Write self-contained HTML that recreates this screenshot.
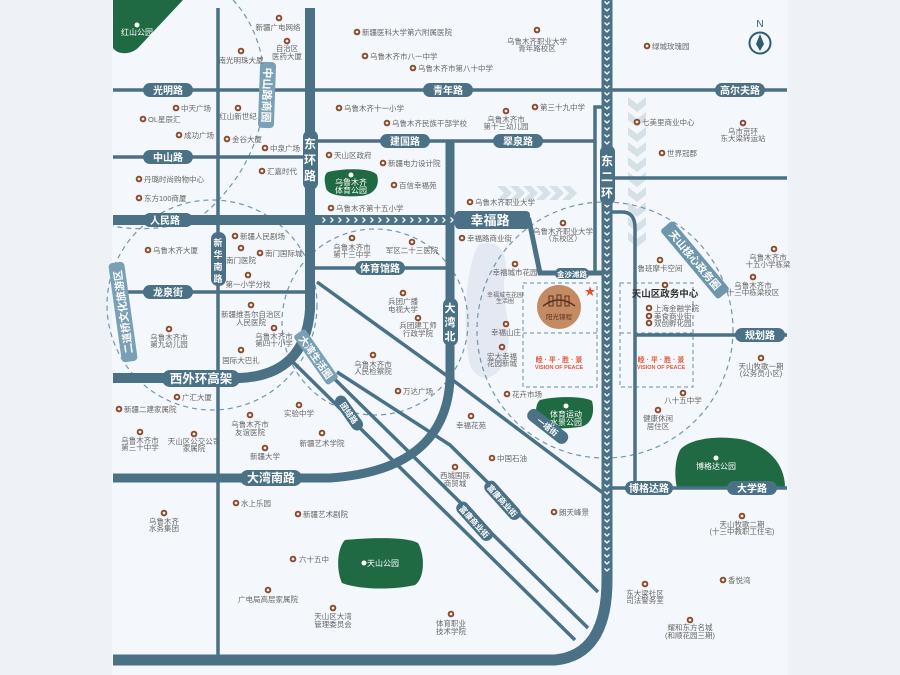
<!DOCTYPE html>
<html><head><meta charset="utf-8"><style>
html,body{margin:0;padding:0;background:#eef2f6;}
svg{display:block;font-family:"Liberation Sans","Noto Sans CJK SC",sans-serif;}
.p text{font-size:7.5px;fill:#666;}
.r{fill:none;stroke:#4a7185;}
.pl rect{fill:#4a7185;}
.pl text{fill:#fff;font-size:10px;font-weight:bold;text-anchor:middle;}
.c{text-anchor:middle;}
</style></head><body>
<svg width="900" height="675" viewBox="0 0 900 675">
<defs>
<pattern id="vch" x="602" y="0" width="10" height="7" patternUnits="userSpaceOnUse"><rect width="10" height="7" fill="#4a7185"/><path d="M2.5,1.5 L5,4 L7.5,1.5" stroke="#fff" stroke-width="1.3" fill="none"/></pattern>
<pattern id="hch" x="0" y="215" width="8" height="10" patternUnits="userSpaceOnUse"><rect width="8" height="10" fill="#4a7185"/><path d="M2.5,2.5 L5,5 L2.5,7.5" stroke="#fff" stroke-width="1.3" fill="none"/></pattern>
<g id="ic"><circle r="3.3" fill="#8b4a2b"/><circle r="1.4" fill="#f5f0ea"/></g>
</defs>
<rect x="0" y="0" width="900" height="675" fill="#eef2f6"/>
<rect x="112" y="0" width="676" height="675" fill="#f4f7fb"/>

<!-- light chevron bands -->
<g fill="#d6e0e8">
<path d="M628,97 L637,104 L646,97 L646,105 L637,112 L628,105Z"/>
<path d="M628,112 L637,119 L646,112 L646,120 L637,127 L628,120Z"/>
<path d="M628,127 L637,134 L646,127 L646,135 L637,142 L628,135Z"/>
<path d="M628,142 L637,149 L646,142 L646,150 L637,157 L628,150Z"/>
<path d="M628,157 L637,164 L646,157 L646,165 L637,172 L628,165Z"/>
<path d="M628,172 L637,179 L646,172 L646,180 L637,187 L628,180Z"/>
<path d="M628,187 L637,194 L646,187 L646,195 L637,202 L628,195Z"/>
<path d="M628,202 L637,209 L646,202 L646,210 L637,217 L628,210Z"/>
<path d="M628,217 L637,224 L646,217 L646,225 L637,232 L628,225Z"/>
<path d="M628,232 L637,239 L646,232 L646,240 L637,247 L628,240Z"/>
<path d="M497,186 L505,186 L512,193 L505,200 L497,200 L504,193Z"/>
<path d="M510,186 L518,186 L525,193 L518,200 L510,200 L517,193Z"/>
<path d="M523,186 L531,186 L538,193 L531,200 L523,200 L530,193Z"/>
<path d="M536,186 L544,186 L551,193 L544,200 L536,200 L543,193Z"/>
<path d="M549,186 L557,186 L564,193 L557,200 L549,200 L556,193Z"/>
<path d="M562,186 L570,186 L577,193 L570,200 L562,200 L569,193Z"/>
</g>
<!-- lavender area -->
<path d="M478,245 C495,238 510,250 505,275 C500,300 515,330 505,360 C498,380 478,385 470,365 C462,330 465,270 478,245Z" fill="#e3e8f3"/>

<!-- dashed circles -->
<g fill="none" stroke="#6e97b0" stroke-width="1.2" stroke-dasharray="5 4">
<path d="M233,0 C280,50 278,150 205,213 C185,228 140,232 113,226"/>
<circle cx="212" cy="305" r="105"/>
<circle cx="375" cy="322" r="93"/>
<circle cx="605" cy="330" r="128"/>
</g>

<!-- greens -->
<path d="M113,0 L183,0 L138,48 C130,55 118,55 113,48Z" fill="#1f6a42"/>
<path d="M328,172 C345,168 372,168 377,175 C380,185 375,195 360,196 C345,197 328,196 326,188 C324,180 324,174 328,172Z" fill="#1f6a42"/>
<path d="M540,400 C555,396 585,396 592,401 C595,412 592,425 580,427 C565,429 545,429 538,425 C535,415 535,404 540,400Z" fill="#1f6a42"/>
<path d="M345,540 C365,538 405,536 418,543 C425,555 425,578 415,585 C395,590 360,590 342,583 C336,570 337,548 345,540Z" fill="#1f6a42"/>
<path d="M680,450 C690,438 720,435 745,440 C770,448 785,465 785,488 L677,488 C674,475 675,460 680,450Z" fill="#1f6a42"/>

<!-- dashed rects -->
<g fill="none" stroke="#7ea2b8" stroke-width="1.2" stroke-dasharray="4 3">
<rect x="523" y="283" width="74" height="104"/><line x1="523" y1="333" x2="597" y2="333"/>
<rect x="620" y="283" width="73" height="104"/><line x1="620" y1="333" x2="693" y2="333"/>
</g>

<!-- thin roads -->
<g class="r" stroke-width="3.5">
<line x1="113" y1="90" x2="787" y2="90"/>
<line x1="113" y1="157" x2="310" y2="157"/>
<line x1="113" y1="292" x2="310" y2="292"/>
<line x1="218" y1="8" x2="218" y2="660"/>
<line x1="310" y1="141" x2="595" y2="141"/>
<polyline points="595,274 595,107 607,107"/>
<line x1="310" y1="268" x2="450" y2="268"/>
<line x1="607" y1="178" x2="787" y2="178"/>
<path d="M607,212 L622,212 Q635,212 635,228 L635,488"/>
<line x1="635" y1="335" x2="787" y2="335"/>
<line x1="607" y1="488" x2="787" y2="488"/>
<polyline points="317,282 450,378 603,493"/>
<polyline points="337,372 450,445 598,592"/>
<line x1="300" y1="345" x2="588" y2="628"/>
<line x1="293" y1="362" x2="575" y2="640"/>
</g>
<!-- thick roads -->
<g class="r">
<path d="M455,220 L529,220 L540,273 L607,273" stroke-width="5"/>
<line x1="113" y1="220" x2="460" y2="220" stroke-width="10"/>
<path d="M310,8 L310,310 Q305,375 240,378 L113,378" stroke-width="10"/>
<path d="M113,478 L330,478 Q445,470 450,380 L450,140" stroke-width="9"/>
<path d="M113,660 L555,660 Q607,655 607,580 L607,0" stroke-width="11"/>
</g>
<rect x="318" y="215" width="137" height="10" fill="url(#hch)"/>
<rect x="602" y="0" width="10" height="575" fill="url(#vch)"/>

<!-- pills -->
<g class="pl">
<rect x="143" y="83" width="50" height="14" rx="7"/><text x="168" y="94">光明路</text>
<rect x="423" y="83" width="50" height="14" rx="7"/><text x="448" y="94">青年路</text>
<rect x="715" y="83" width="50" height="14" rx="7"/><text x="740" y="94">高尔夫路</text>
<rect x="143" y="150" width="50" height="14" rx="7"/><text x="168" y="161">中山路</text>
<rect x="143" y="213" width="50" height="14" rx="7"/><text x="165" y="224">人民路</text>
<rect x="143" y="285" width="50" height="14" rx="7"/><text x="168" y="296">龙泉街</text>
<rect x="380" y="134" width="50" height="14" rx="7"/><text x="405" y="145">建国路</text>
<rect x="493" y="134" width="50" height="14" rx="7"/><text x="518" y="145">翠泉路</text>
<rect x="355" y="261" width="50" height="14" rx="7"/><text x="380" y="272">体育馆路</text>
<rect x="455" y="211" width="75" height="18" rx="4"/><text x="490" y="225" style="font-size:13px">幸福路</text>
<rect x="555" y="268" width="34" height="11" rx="5"/><text x="572" y="277" style="font-size:7.5px">金沙滩路</text>
<rect x="162" y="370" width="78" height="17" rx="8"/><text x="201" y="383" style="font-size:12.5px">西外环高架</text>
<rect x="240" y="470" width="62" height="16" rx="8"/><text x="271" y="482" style="font-size:12px">大湾南路</text>
<rect x="625" y="481" width="48" height="14" rx="7"/><text x="649" y="492">博格达路</text>
<rect x="727" y="481" width="50" height="14" rx="7"/><text x="752" y="492">大学路</text>
<rect x="735" y="328" width="50" height="14" rx="7"/><text x="760" y="339">规划路</text>
<rect x="303" y="130" width="15" height="60" rx="7"/>
<rect x="211" y="232" width="15" height="54" rx="7"/>
<rect x="443" y="298" width="15" height="48" rx="7"/>
<rect x="600" y="145" width="15" height="60" rx="7"/>
</g>
<g fill="#fff" font-weight="bold" text-anchor="middle">
<text x="310" y="148" font-size="12">东</text><text x="310" y="164" font-size="12">环</text><text x="310" y="180" font-size="12">路</text>
<text x="218" y="246" font-size="9">新</text><text x="218" y="258" font-size="9">华</text><text x="218" y="270" font-size="9">南</text><text x="218" y="282" font-size="9">路</text>
<text x="450" y="312" font-size="11">大</text><text x="450" y="326" font-size="11">湾</text><text x="450" y="340" font-size="11">北</text>
<text x="607" y="165" font-size="12">东</text><text x="607" y="181" font-size="12">二</text><text x="607" y="197" font-size="12">环</text>
</g>
<!-- rotated pills -->
<g transform="translate(267,95) rotate(92)"><rect x="-33" y="-8" width="66" height="16" rx="4" fill="#7aa0b6"/><text x="0" y="4" fill="#fff" font-size="11" font-weight="bold" text-anchor="middle">中山路商圈</text></g>
<g transform="translate(123,312) rotate(-98)"><rect x="-50" y="-8" width="100" height="16" rx="4" fill="#7aa0b6"/><text x="0" y="4" fill="#fff" font-size="10.5" font-weight="bold" text-anchor="middle">二道桥文化旅游区</text></g>
<g transform="translate(316,357) rotate(55)"><rect x="-30" y="-7" width="60" height="14" rx="3" fill="#7aa0b6"/><text x="0" y="4" fill="#fff" font-size="10" font-weight="bold" text-anchor="middle">大湾生活圈</text></g>
<g transform="translate(695,260) rotate(50)"><rect x="-45" y="-8" width="90" height="16" rx="3" fill="#6e96ad"/><text x="0" y="4" fill="#fff" font-size="10.5" font-weight="bold" text-anchor="middle">天山核心政务圈</text></g>
<g class="pl" transform="translate(349,413) rotate(55)"><rect x="-20" y="-6" width="40" height="12" rx="6"/><text x="0" y="3" style="font-size:8px">团结路</text></g>
<g class="pl" transform="translate(548,426) rotate(38)"><rect x="-24" y="-6" width="48" height="13" rx="6"/><text x="0" y="4" style="font-size:8px">一塔街</text></g>
<g class="pl" transform="translate(503,500) rotate(48)"><rect x="-24" y="-6" width="48" height="13" rx="6"/><text x="0" y="4" style="font-size:8px">富康商业街</text></g>
<g class="pl" transform="translate(475,521) rotate(48)"><rect x="-24" y="-6" width="48" height="13" rx="6"/><text x="0" y="4" style="font-size:8px">富康商业街</text></g>

<!-- project -->
<circle cx="559" cy="307" r="22" fill="#c48a62"/>
<path d="M543,306 Q559,294 575,306" stroke="#5a3020" stroke-width="1.5" fill="none"/>
<g stroke="#5a3020" stroke-width="1" fill="none"><rect x="549" y="296" width="4" height="10"/><rect x="557" y="295" width="4" height="11"/><rect x="565" y="296" width="4" height="10"/></g>
<text x="559" y="319" font-size="6.5" fill="#5a3020" text-anchor="middle">阳光锦程</text>
<text x="590" y="295" font-size="11" fill="#e8502a" text-anchor="middle">★</text>
<text x="559" y="362" font-size="7" fill="#e2583a" text-anchor="middle" font-weight="bold">睦 · 平 · 胜 · 景</text>
<text x="559" y="369" font-size="5.5" fill="#e2583a" text-anchor="middle" font-weight="bold">VISION OF PEACE</text>
<text x="661" y="362" font-size="7" fill="#e2583a" text-anchor="middle" font-weight="bold">睦 · 平 · 胜 · 景</text>
<text x="661" y="369" font-size="5.5" fill="#e2583a" text-anchor="middle" font-weight="bold">VISION OF PEACE</text>

<!-- compass -->
<text x="760" y="27" font-size="10" fill="#2e5e72" text-anchor="middle">N</text>
<circle cx="760" cy="43" r="10.5" fill="none" stroke="#2e5e72" stroke-width="2"/>
<path d="M760,34 L764,44 L760,51 L756,44Z" fill="#2e5e72"/>

<!-- park labels -->
<g fill="#fff" font-size="8" text-anchor="middle">
<circle cx="137" cy="25" r="2.5" fill="#fff"/><text x="137" y="35">红山公园</text>
<circle cx="351" cy="175" r="2.5"/><text x="351" y="185">乌鲁木齐</text><text x="351" y="193">体育公园</text>
<circle cx="566" cy="406" r="2.5"/><text x="566" y="417">体育运动</text><text x="566" y="425">水景公园</text>
<circle cx="364" cy="563" r="2.5"/><text x="383" y="566">天山公园</text>
<circle cx="716" cy="458" r="2.5"/><text x="716" y="469">博格达公园</text>
</g>

<!-- POIs -->
<g class="p">
<use href="#ic" x="279" y="18"/><text x="278" y="30" class="c">新疆广电网络</text>
<use href="#ic" x="287" y="41"/><text x="287" y="51" class="c">自治区</text><text x="287" y="59" class="c">医药大厦</text>
<use href="#ic" x="241" y="51"/><text x="241" y="63" class="c">南光明珠大厦</text>
<use href="#ic" x="357" y="32"/><text x="362" y="35">新疆医科大学第六附属医院</text>
<use href="#ic" x="365" y="56"/><text x="370" y="59">乌鲁木齐市八一中学</text>
<use href="#ic" x="413" y="68"/><text x="418" y="71">乌鲁木齐市第八十中学</text>
<use href="#ic" x="176" y="108"/><text x="181" y="111">中天广场</text>
<use href="#ic" x="143" y="119"/><text x="148" y="122">OL星辰汇</text>
<use href="#ic" x="179" y="135"/><text x="184" y="138">成功广场</text>
<use href="#ic" x="238" y="108"/><text x="238" y="119" class="c">红山新世纪</text>
<use href="#ic" x="227" y="139"/><text x="232" y="142">金谷大厦</text>
<use href="#ic" x="265" y="148"/><text x="270" y="151">中泉广场</text>
<use href="#ic" x="262" y="171"/><text x="267" y="174">汇嘉时代</text>
<use href="#ic" x="139" y="179"/><text x="144" y="182">丹璐时尚购物中心</text>
<use href="#ic" x="139" y="198"/><text x="144" y="201">东方100商厦</text>
<use href="#ic" x="339" y="108"/><text x="344" y="111">乌鲁木齐十一小学</text>
<use href="#ic" x="387" y="123"/><text x="392" y="126">乌鲁木齐民族干部学校</text>
<use href="#ic" x="329" y="155"/><text x="334" y="158">天山区政府</text>
<use href="#ic" x="383" y="163"/><text x="388" y="166">新疆电力设计院</text>
<use href="#ic" x="394" y="185"/><text x="399" y="188">百信幸福苑</text>
<use href="#ic" x="331" y="208"/><text x="336" y="211">乌鲁木齐第十五小学</text>
<use href="#ic" x="235" y="236"/><text x="240" y="239">新疆人民剧场</text>
<use href="#ic" x="148" y="250"/><text x="153" y="253">乌鲁木齐大厦</text>
<use href="#ic" x="241" y="248"/><text x="241" y="263" class="c">南门医院</text>
<use href="#ic" x="260" y="253"/><text x="265" y="256">南门国际城</text>
<use href="#ic" x="248" y="275"/><text x="248" y="287" class="c">第一小学分校</text>
<use href="#ic" x="352" y="238"/><text x="352" y="250" class="c">乌鲁木齐市</text><text x="352" y="257" class="c">第十三中学</text>
<use href="#ic" x="412" y="242"/><text x="412" y="253" class="c">军区二十三医院</text>
<use href="#ic" x="403" y="293"/><text x="403" y="304" class="c">兵团广播</text><text x="403" y="312" class="c">电视大学</text>
<use href="#ic" x="418" y="318"/><text x="418" y="328" class="c">兵团建工师</text><text x="418" y="336" class="c">行政学院</text>
<use href="#ic" x="251" y="305"/><text x="251" y="317" class="c">新疆维吾尔自治区</text><text x="251" y="325" class="c">人民医院</text>
<use href="#ic" x="274" y="328"/><text x="274" y="339" class="c">乌鲁木齐市</text><text x="274" y="346" class="c">第四十小学</text>
<use href="#ic" x="169" y="329"/><text x="169" y="340" class="c">乌鲁木齐市</text><text x="169" y="347" class="c">第九幼儿园</text>
<use href="#ic" x="241" y="350"/><text x="241" y="363" class="c">国际大巴扎</text>
<use href="#ic" x="373" y="355"/><text x="373" y="367" class="c">乌鲁木齐市</text><text x="373" y="374" class="c">人民检察院</text>
<use href="#ic" x="398" y="391"/><text x="403" y="394">万达广场</text>
<use href="#ic" x="177" y="397"/><text x="182" y="400">广汇大厦</text>
<use href="#ic" x="119" y="409"/><text x="124" y="412">新疆二建家属院</text>
<use href="#ic" x="299" y="405"/><text x="299" y="416" class="c">实验中学</text>
<use href="#ic" x="250" y="415"/><text x="250" y="427" class="c">乌鲁木齐市</text><text x="250" y="435" class="c">友谊医院</text>
<use href="#ic" x="140" y="432"/><text x="140" y="443" class="c">乌鲁木齐市</text><text x="140" y="450" class="c">第三十中学</text>
<use href="#ic" x="194" y="434"/><text x="194" y="444" class="c">天山区公交公司</text><text x="194" y="451" class="c">家属院</text>
<use href="#ic" x="322" y="433"/><text x="322" y="446" class="c">新疆艺术学院</text>
<use href="#ic" x="265" y="448"/><text x="265" y="459" class="c">新疆大学</text>
<use href="#ic" x="236" y="503"/><text x="241" y="506">水上乐园</text>
<use href="#ic" x="298" y="514"/><text x="303" y="517">新疆艺术剧院</text>
<use href="#ic" x="164" y="513"/><text x="164" y="524" class="c">乌鲁木齐</text><text x="164" y="531" class="c">水务集团</text>
<use href="#ic" x="293" y="559"/><text x="299" y="562">六十五中</text>
<use href="#ic" x="268" y="590"/><text x="268" y="602" class="c">广电局高层家属院</text>
<use href="#ic" x="333" y="608"/><text x="333" y="619" class="c">天山区大湾</text><text x="333" y="627" class="c">管理委员会</text>
<use href="#ic" x="451" y="614"/><text x="451" y="626" class="c">体育职业</text><text x="451" y="634" class="c">技术学院</text>
<use href="#ic" x="537" y="30"/><text x="537" y="44" class="c">乌鲁木齐职业大学</text><text x="537" y="51" class="c">青年路校区</text>
<use href="#ic" x="647" y="46"/><text x="652" y="49">绿城玫瑰园</text>
<use href="#ic" x="535" y="107"/><text x="540" y="110">第三十九中学</text>
<use href="#ic" x="506" y="111"/><text x="506" y="122" class="c">乌鲁木齐市</text><text x="506" y="129" class="c">第十三幼儿园</text>
<use href="#ic" x="637" y="122"/><text x="642" y="125">七美里商业中心</text>
<use href="#ic" x="743" y="123"/><text x="743" y="134" class="c">乌市京环</text><text x="743" y="141" class="c">东大梁转运站</text>
<use href="#ic" x="662" y="153"/><text x="667" y="156">世界冠郡</text>
<use href="#ic" x="470" y="202"/><text x="475" y="205">乌鲁木齐职业大学</text>
<use href="#ic" x="563" y="223"/><text x="563" y="234" class="c">乌鲁木齐职业大学</text><text x="563" y="241" class="c">（东校区）</text>
<use href="#ic" x="462" y="238"/><text x="467" y="241">幸福路商业街</text>
<use href="#ic" x="515" y="264"/><text x="515" y="275" class="c">幸福城市花园</text>
<text x="505" y="297" class="c" style="font-size:6px">幸福城市花园</text><text x="505" y="303" class="c" style="font-size:6px">生活圈</text>
<use href="#ic" x="506" y="324"/><text x="506" y="335" class="c">幸福山庄</text>
<use href="#ic" x="660" y="260"/><text x="660" y="271" class="c">鲁班摩卡空间</text>
<use href="#ic" x="665" y="285"/><text x="665" y="297" class="c" style="font-size:9.5px;fill:#333;font-weight:bold">天山区政务中心</text>
<use href="#ic" x="649" y="308"/><text x="654" y="311">上海金融学院</text>
<use href="#ic" x="649" y="316"/><text x="654" y="319">美食商业街</text>
<use href="#ic" x="649" y="323"/><text x="654" y="326">双创孵化园</text>
<use href="#ic" x="774" y="249"/><text x="768" y="260" class="c">乌鲁木齐市</text><text x="768" y="267" class="c">十五小学栋梁</text>
<use href="#ic" x="753" y="277"/><text x="753" y="288" class="c">乌鲁木齐市</text><text x="753" y="295" class="c">十三中栋梁校区</text>
<use href="#ic" x="502" y="347"/><text x="502" y="359" class="c">宏大幸福</text><text x="502" y="366" class="c">花园新城</text>
<use href="#ic" x="507" y="394"/><text x="512" y="397">花卉市场</text>
<use href="#ic" x="471" y="416"/><text x="471" y="428" class="c">幸福花苑</text>
<use href="#ic" x="492" y="458"/><text x="497" y="461">中国石油</text>
<use href="#ic" x="455" y="467"/><text x="455" y="478" class="c">西城国际</text><text x="455" y="486" class="c">商贸城</text>
<use href="#ic" x="554" y="512"/><text x="559" y="515">朗天峰景</text>
<use href="#ic" x="683" y="393"/><text x="683" y="403" class="c">八十五中学</text>
<use href="#ic" x="658" y="410"/><text x="658" y="421" class="c">健康休闲</text><text x="658" y="429" class="c">居住区</text>
<use href="#ic" x="761" y="358"/><text x="761" y="369" class="c">天山牧歌一期</text><text x="761" y="376" class="c">(公务员小区)</text>
<use href="#ic" x="742" y="516"/><text x="742" y="527" class="c">天山牧歌二期</text><text x="742" y="534" class="c">(十三中教职工住宅)</text>
<use href="#ic" x="723" y="580"/><text x="728" y="583">香悦湾</text>
<use href="#ic" x="645" y="584"/><text x="645" y="596" class="c">东大梁社区</text><text x="645" y="603" class="c">司法警务室</text>
<use href="#ic" x="690" y="620"/><text x="690" y="630" class="c">耀和东方名城</text><text x="690" y="638" class="c">(和顺花园三期)</text>
</g>
</svg>
</body></html>
